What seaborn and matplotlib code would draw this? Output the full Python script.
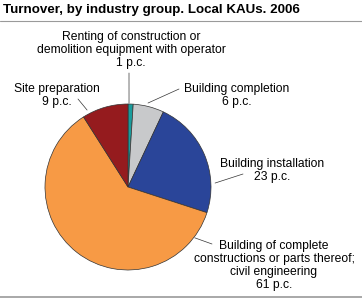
import numpy as np
import matplotlib
matplotlib.use("Agg")
import matplotlib.pyplot as plt
from matplotlib.lines import Line2D
import seaborn as sns

# ---- data ----
categories = [
    "Renting of construction or\ndemolition equipment with operator",
    "Building completion",
    "Building installation",
    "Building of complete\nconstructions or parts thereof;\ncivil engineering",
    "Site preparation",
]
values = [1, 6, 23, 61, 9]
value_labels = ["1 p.c.", "6 p.c.", "23 p.c.", "61 p.c.", "9 p.c."]
colors = ["#1a9c9c", "#c8c9cb", "#2a4599", "#f79a45", "#951b1e"]
title = "Turnover, by industry group. Local KAUs. 2006"

sns.set_style("white")
plt.rcParams["font.family"] = ["Liberation Sans", "DejaVu Sans"]

W, H = 362, 298
fig = plt.figure(figsize=(W / 100, H / 100), dpi=100)

def fx(x):
    return x / W

def fy(y):
    return 1 - y / H

# pie axes: center (128,187), radius 83 px
cx, cy, r = 128, 187, 83
ax = fig.add_axes([fx(cx - r), fy(cy + r), 2 * r / W, 2 * r / H])
ax.pie(values, colors=colors, startangle=90, counterclock=False,
       wedgeprops=dict(edgecolor="#333333", linewidth=0.5))
ax.set_xlim(-1, 1)
ax.set_ylim(-1, 1)
ax.set_aspect("equal")
ax.axis("off")

# title and rules
fig.text(fx(3), fy(10.5), title, fontsize=9.6, fontweight="bold",
         ha="left", va="center", color="#000000")
fig.add_artist(Line2D([0, 1], [fy(21), fy(21)], transform=fig.transFigure,
                      color="#9a9a9a", linewidth=0.8))
fig.add_artist(Line2D([0, 1], [fy(296.5), fy(296.5)], transform=fig.transFigure,
                      color="#9a9a9a", linewidth=1.2))

# label layout: (text center x, first-line center y, leader outer x, outer y, leader angle deg, radius)
layout = [
    (131, 37, 129, 73, 89.3, 1.01),
    (237, 89, 179, 89, 76.6, 1.04),
    (272, 164, 243, 174, 2.6, 1.05),
    (274, 246, 212, 244, -37.3, 1.01),
    (57, 89, 78, 99, 118, 1.05),
]

for cat, vl, (tx, ty, ox, oy, ang, rr) in zip(categories, value_labels, layout):
    fig.text(fx(tx), fy(ty - 6), cat + "\n" + vl, fontsize=8.7, ha="center",
             va="top", multialignment="center", linespacing=1.1,
             color="#000000")
    a = np.deg2rad(ang)
    inner = fig.transFigure.inverted().transform(
        ax.transData.transform((rr * np.cos(a), rr * np.sin(a))))
    fig.add_artist(Line2D([fx(ox), inner[0]], [fy(oy), inner[1]],
                          transform=fig.transFigure, color="#333333",
                          linewidth=0.5))

fig.savefig("out.png", dpi=100)
